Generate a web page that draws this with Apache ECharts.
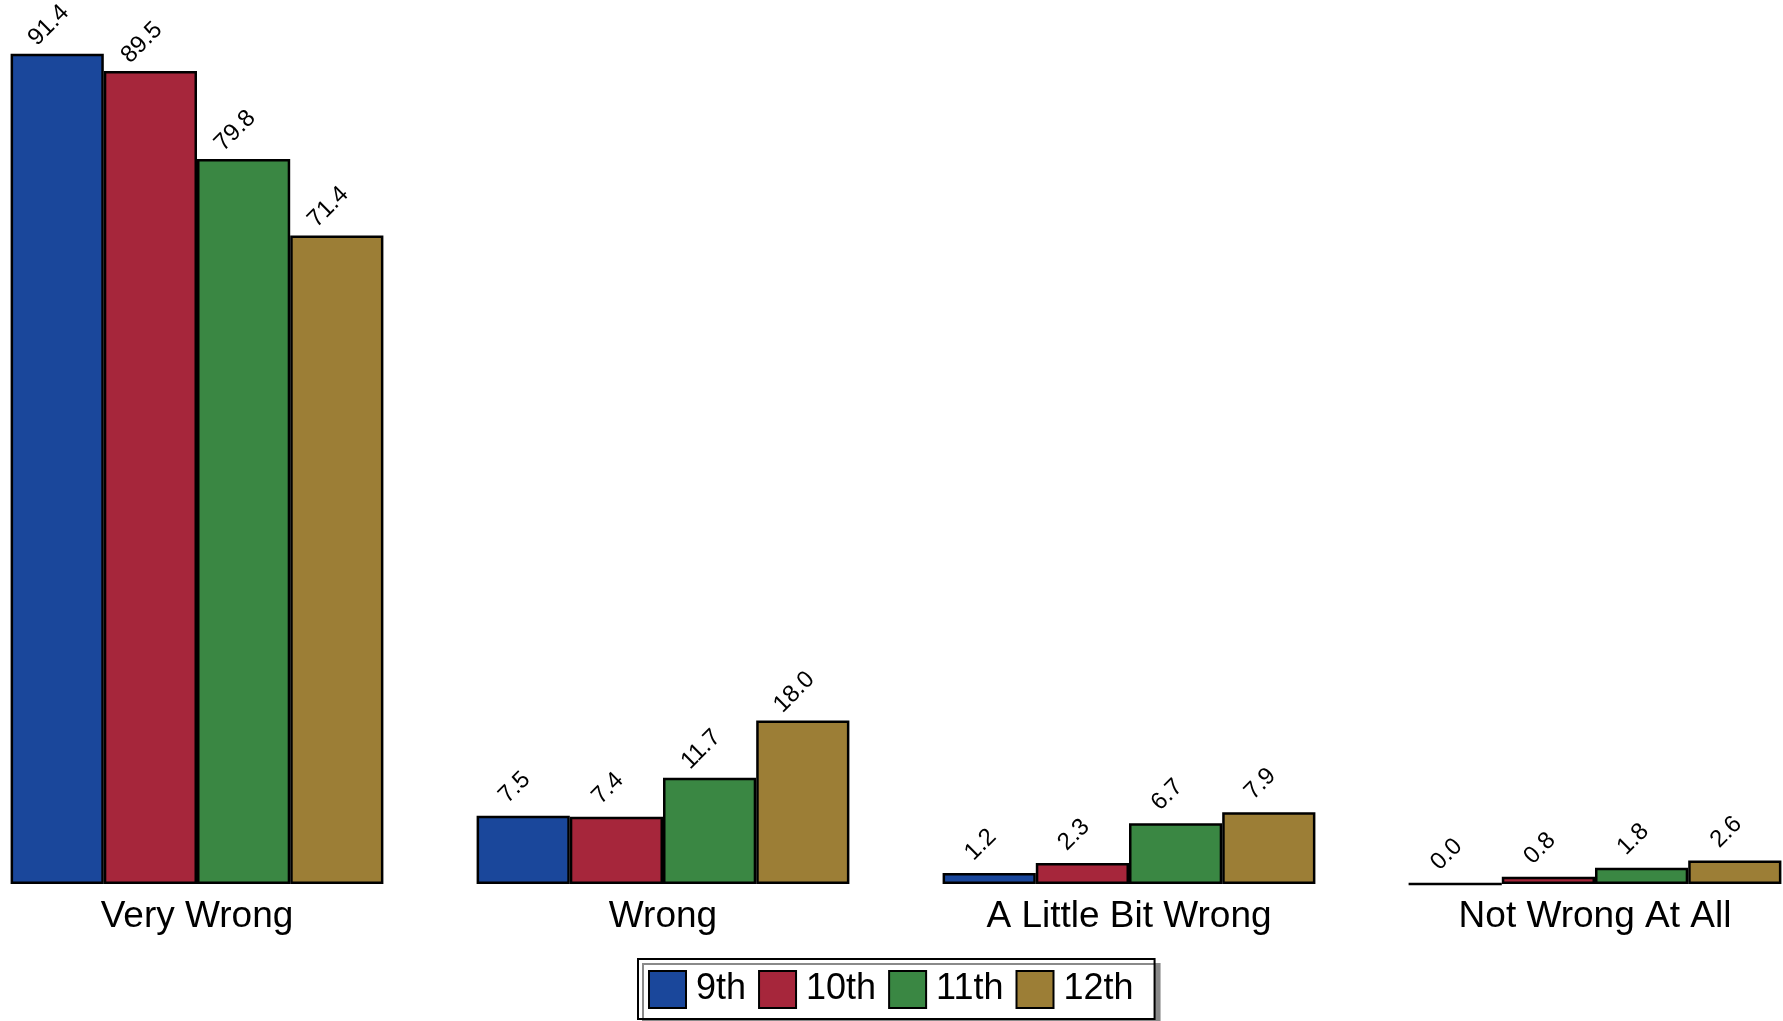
<!DOCTYPE html>
<html lang="en">
<head>
    <meta charset="UTF-8">
    <title>Grade by answer</title>
    <script src="https://cdn.jsdelivr.net/npm/echarts@6.0.0/dist/echarts.min.js"></script>
    <style>
        html, body { margin: 0; padding: 0; background: #fff; overflow: hidden; }
        /* the first and last bar touch the page edges, so the canvas is wider than the window */
        #chart-container { width: 1864px; height: 1021px; margin-left: -36px; }
    </style>
</head>
<body>
    <div id="chart-container"></div>
    <script>
    // categories and values
    var categories = ['Very Wrong', 'Wrong', 'A Little Bit Wrong', 'Not Wrong At All'];
    var grades = ['9th', '10th', '11th', '12th'];
    var grade9 = [91.4, 7.5, 1.2, 0.0];
    var grade10 = [89.5, 7.4, 2.3, 0.8];
    var grade11 = [79.8, 11.7, 6.7, 1.8];
    var grade12 = [71.4, 18.0, 7.9, 2.6];
    var colors = ['#1a479b', '#a6263b', '#3a8743', '#9c7e36'];

    var font = 'Liberation Sans, Arial, Helvetica, sans-serif';
    var seriesData = [grade9, grade10, grade11, grade12];

    var series = grades.map(function (g, i) {
        return {
            name: g,
            type: 'bar',
            data: seriesData[i],
            barGap: '0%',
            barCategoryGap: '20%',
            itemStyle: {
                color: colors[i],
                borderColor: '#000',
                borderWidth: 2.5
            },
            label: {
                show: true,
                position: 'top',
                distance: 0,
                rotate: 45,
                align: 'center',
                verticalAlign: 'middle',
                offset: [14, -26],
                color: '#000',
                fontSize: 24,
                fontFamily: font,
                formatter: function (p) { return p.value.toFixed(1); }
            }
        };
    });

    var chart = echarts.init(document.getElementById('chart-container'));
    chart.setOption({
        animation: false,
        backgroundColor: '#fff',
        grid: { left: 0, right: 0, top: 21, bottom: 137 },
        xAxis: {
            type: 'category',
            data: categories,
            axisLine: { show: false },
            axisTick: { show: false },
            axisLabel: { color: '#000', fontSize: 37, fontFamily: font, margin: 14 }
        },
        yAxis: {
            type: 'value',
            min: 0,
            max: 95,
            show: false,
            splitLine: { show: false }
        },
        legend: {
            data: grades,
            left: 674,
            top: 959,
            orient: 'horizontal',
            itemWidth: 37,
            itemHeight: 37,
            itemGap: 12,
            padding: [11, 21, 10, 10],
            backgroundColor: '#fff',
            borderColor: '#000',
            borderWidth: 2,
            shadowColor: '#8a8a8a',
            shadowOffsetX: 5,
            shadowOffsetY: 5,
            shadowBlur: 0,
            icon: 'rect',
            itemStyle: { borderColor: '#000', borderWidth: 2 },
            textStyle: { color: '#000', fontSize: 36, fontFamily: font, padding: [0, 0, 0, 5] }
        },
        series: series
    });
    </script>
</body>
</html>
